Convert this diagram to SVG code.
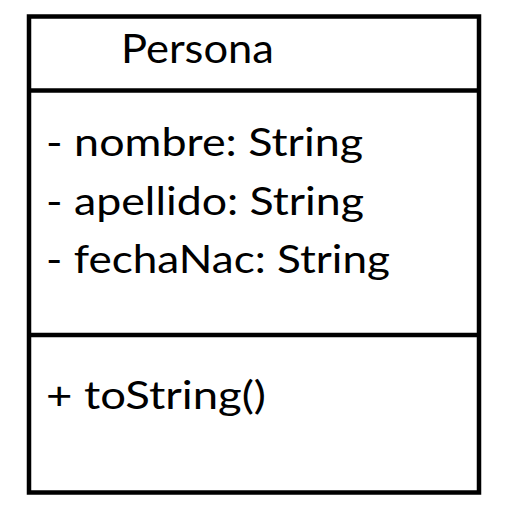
<svg xmlns="http://www.w3.org/2000/svg" width="513" height="522" viewBox="0 0 513 522">
  <style>
    .box { fill: #ffffff; stroke: #000000; stroke-width: 4.5; }
    .div { stroke: #000000; stroke-width: 4.5; fill: none; }
    .t { font-family: "Lato", "Liberation Sans", sans-serif; fill: #000000; }
    .title { font-size: 40px; }
    .member { font-size: 38px; }
  </style>
  <rect width="513" height="522" fill="#ffffff"/>
  <g id="node-persona">
    <rect class="box" x="29" y="16.5" width="450" height="476"/>
    <line class="div" x1="29" y1="90.5" x2="479" y2="90.5"/>
    <line class="div" x1="29" y1="335" x2="479" y2="335"/>
    <text class="t title" x="121" y="63" textLength="153" lengthAdjust="spacingAndGlyphs">Persona</text>
    <text class="t member" x="46" y="156" textLength="317" lengthAdjust="spacingAndGlyphs">- nombre: String</text>
    <text class="t member" x="46" y="214.5" textLength="318" lengthAdjust="spacingAndGlyphs">- apellido: String</text>
    <text class="t member" x="46" y="272.5" textLength="344" lengthAdjust="spacingAndGlyphs">- fechaNac: String</text>
    <text class="t member" x="46" y="408.5" textLength="220" lengthAdjust="spacingAndGlyphs">+ toString()</text>
  </g>
  <g id="connectors"></g>
</svg>
